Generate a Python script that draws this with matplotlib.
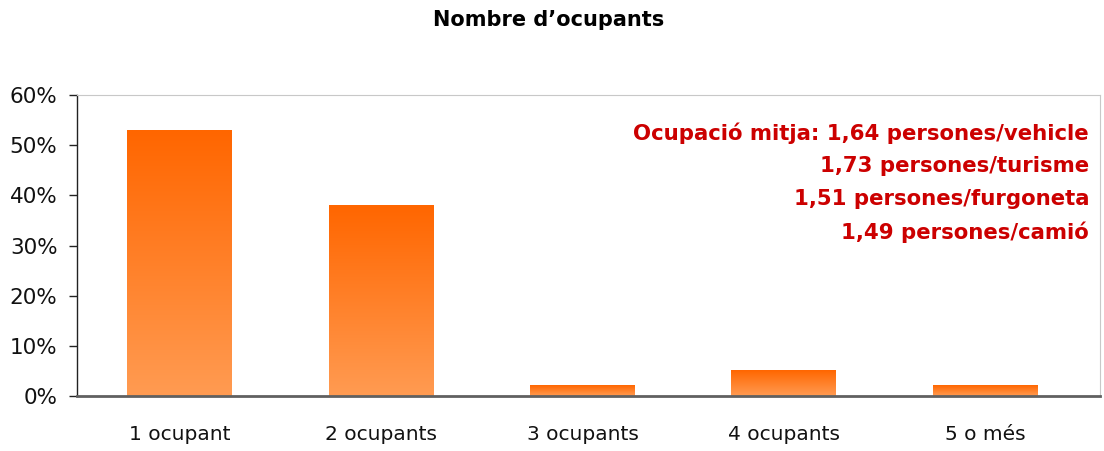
import numpy as np
import matplotlib.pyplot as plt
from matplotlib.colors import LinearSegmentedColormap

# Data
categories = ['1 ocupant', '2 ocupants', '3 ocupants', '4 ocupants', '5 o més']
shares = [53, 38, 2, 5, 2]
notes = ['Ocupació mitja: 1,64 persones/vehicle',
         '1,73 persones/turisme',
         '1,51 persones/furgoneta',
         '1,49 persones/camió']

plt.rcParams['font.family'] = 'DejaVu Sans'

fig = plt.figure(figsize=(11.04, 4.51), dpi=100)
ax = fig.add_axes([77 / 1104, 1 - 396 / 451, (1100 - 77) / 1104, (396 - 95) / 451])

# Vertical orange gradient for each bar (light at bottom, dark at top)
grad = LinearSegmentedColormap.from_list('orange', ['#ff9b52', '#ff6600'])
g = np.linspace(0, 1, 256).reshape(-1, 1)
width = 0.52
x = np.arange(len(categories))
bars = ax.bar(x, shares, width=width, color='none', edgecolor='none')
for b in bars:
    x0, y0 = b.get_x(), b.get_y()
    ax.imshow(g, cmap=grad, origin='lower', aspect='auto', interpolation='bilinear',
              extent=(x0, x0 + b.get_width(), y0, y0 + b.get_height()), zorder=2)

ax.set_xlim(-0.51, 4.57)
ax.set_ylim(0, 60)
ax.set_yticks(np.arange(0, 61, 10))
ax.set_yticklabels([f'{v}%' for v in range(0, 61, 10)])
ax.set_xticks(x)
ax.set_xticklabels(categories)

ax.tick_params(axis='y', direction='out', length=6, width=1, color='#222222',
               labelsize=15.5, pad=8, labelcolor='#111111')
ax.tick_params(axis='x', length=0, labelsize=14.5, pad=21, labelcolor='#111111')

ax.spines['left'].set_color('#222222')
ax.spines['left'].set_linewidth(1)
ax.spines['bottom'].set_color('#606060')
ax.spines['bottom'].set_linewidth(2)
ax.spines['top'].set_color('#c8c8c8')
ax.spines['right'].set_color('#c8c8c8')

fig.text(0.497, 1 - 20 / 451, "Nombre d\u2019ocupants", ha='center', va='center',
         fontsize=15, fontweight='bold', color='#000000')

for i, line in enumerate(notes):
    fig.text(1089 / 1104, 1 - (133 + 33 * i) / 451, line, ha='right', va='center',
             fontsize=15.3, fontweight='bold', color='#cc0000')

fig.savefig('out.png', dpi=100)
